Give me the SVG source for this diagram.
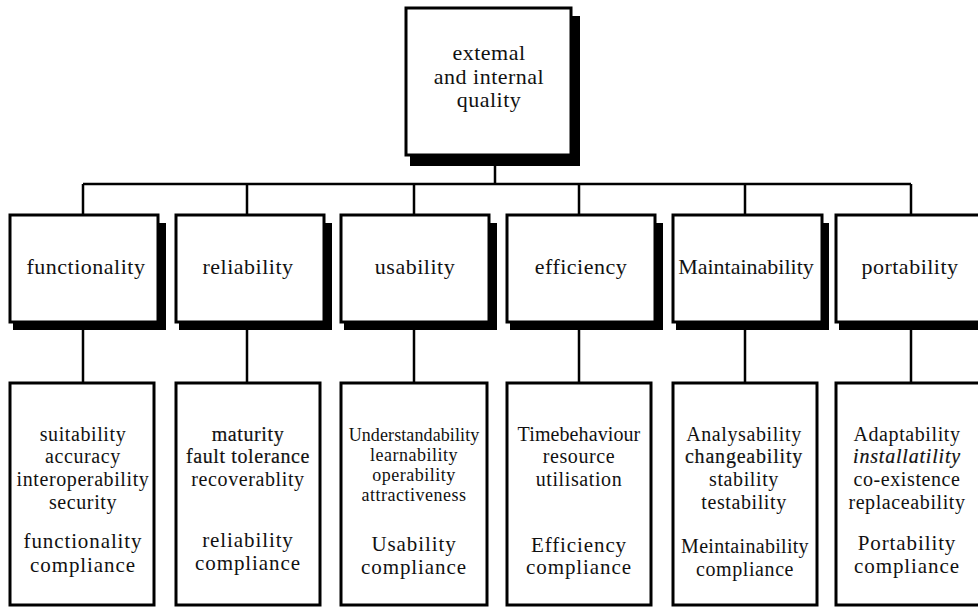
<svg xmlns="http://www.w3.org/2000/svg" width="978" height="607" viewBox="0 0 978 607">
<style>
.box{fill:#fff;stroke:#000;stroke-width:3}
.sh{fill:#000}
.ln{stroke:#000;stroke-width:2.5;fill:none}
text{font-family:"Liberation Serif","Times New Roman",serif;fill:#111;text-anchor:middle}
.t{font-size:22px;letter-spacing:0.5px}
.l{font-size:20px;letter-spacing:0.6px}
.s{font-size:18px;letter-spacing:0.5px}
.c{font-size:21px;letter-spacing:0.9px}
.h{stroke:#111;stroke-width:0.2}
</style>
<rect width="978" height="607" fill="#fff"/>
<g id="connectors">
<path class="ln" d="M495 166V184M83 184H911M83 184V215M247 184V215M414 184V215M579 184V215M745 184V215M911 184V215"/>
<path class="ln" d="M83 322V383M247 322V383M414 322V383M579 322V383M745 322V383M911 322V383"/>
</g>
<g id="root">
<rect class="sh" x="410" y="16" width="170" height="150"/>
<rect class="box" x="406" y="8" width="165" height="147"/>
<text class="t" x="489" y="60">extemal</text>
<text class="t" x="489" y="84">and internal</text>
<text class="t" x="489" y="107">quality</text>
</g>
<g id="functionality">
<rect class="sh" x="13" y="223" width="153" height="107"/>
<rect class="box" x="10" y="215" width="148" height="107"/>
<text class="t" x="86" y="274">functionality</text>
</g>
<g id="reliability">
<rect class="sh" x="179" y="223" width="153" height="107"/>
<rect class="box" x="176" y="215" width="148" height="107"/>
<text class="t" x="248" y="274">reliability</text>
</g>
<g id="usability">
<rect class="sh" x="344" y="223" width="153" height="107"/>
<rect class="box" x="341" y="215" width="148" height="107"/>
<text class="t" x="415" y="274">usability</text>
</g>
<g id="efficiency">
<rect class="sh" x="510" y="223" width="153" height="107"/>
<rect class="box" x="507" y="215" width="148" height="107"/>
<text class="t" x="581" y="274">efficiency</text>
</g>
<g id="maintainability">
<rect class="sh" x="676" y="223" width="153" height="107"/>
<rect class="box" x="673" y="215" width="149" height="107"/>
<text class="t" x="746" y="274" style="letter-spacing:0px">Maintainability</text>
</g>
<g id="portability">
<rect class="sh" x="839" y="223" width="153" height="107"/>
<rect class="box" x="836" y="215" width="148" height="107"/>
<text class="t" x="910" y="274">portability</text>
</g>
<g id="functionality-sub">
<rect class="box" x="10" y="383" width="144" height="222"/>
<text class="l" x="83" y="441">suitability</text>
<text class="l" x="83" y="463">accuracy</text>
<text class="l" x="83" y="486">interoperability</text>
<text class="l" x="83" y="509">security</text>
<text class="c" x="83" y="548">functionality</text>
<text class="c" x="83" y="572">compliance</text>
</g>
<g id="reliability-sub">
<rect class="box" x="176" y="383" width="144" height="222"/>
<text class="l h" x="248" y="441">maturity</text>
<text class="l h" x="248" y="463">fault tolerance</text>
<text class="l" x="248" y="486">recoverablity</text>
<text class="c" x="248" y="547">reliability</text>
<text class="c" x="248" y="570">compliance</text>
</g>
<g id="usability-sub">
<rect class="box" x="341" y="383" width="146" height="222"/>
<text class="s" x="414" y="441" style="letter-spacing:0.1px">Understandability</text>
<text class="s" x="414" y="461">learnability</text>
<text class="s" x="414" y="481">operability</text>
<text class="s" x="414" y="501">attractiveness</text>
<text class="c" x="414" y="551">Usability</text>
<text class="c" x="414" y="574">compliance</text>
</g>
<g id="efficiency-sub">
<rect class="box" x="507" y="383" width="144" height="222"/>
<text class="l" x="579" y="441" style="letter-spacing:0.1px">Timebehaviour</text>
<text class="l" x="579" y="463">resource</text>
<text class="l" x="579" y="486">utilisation</text>
<text class="c" x="579" y="552">Efficiency</text>
<text class="c" x="579" y="574">compliance</text>
</g>
<g id="maintainability-sub">
<rect class="box" x="673" y="383" width="144" height="222"/>
<text class="l" x="744" y="441">Analysability</text>
<text class="l h" x="744" y="463" style="letter-spacing:0.8px">changeability</text>
<text class="l" x="744" y="486">stability</text>
<text class="l" x="744" y="509">testability</text>
<text class="l" x="745" y="553" style="letter-spacing:0.3px">Meintainability</text>
<text class="l" x="745" y="576">compliance</text>
</g>
<g id="portability-sub">
<rect class="box" x="836" y="383" width="148" height="222"/>
<text class="l" x="907" y="441">Adaptability</text>
<text class="l h" x="907" y="463" style="font-style:italic;letter-spacing:0.8px">installatility</text>
<text class="l" x="907" y="486">co-existence</text>
<text class="l" x="907" y="509">replaceability</text>
<text class="c" x="907" y="550">Portability</text>
<text class="c" x="907" y="573">compliance</text>
</g>
</svg>
